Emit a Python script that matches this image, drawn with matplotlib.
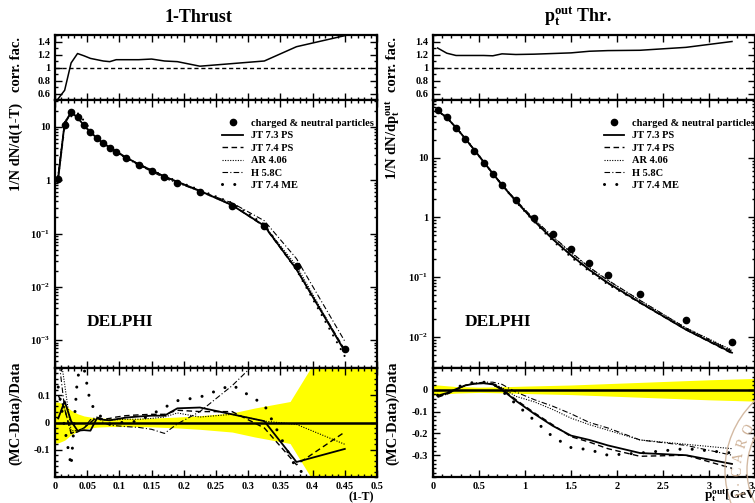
import matplotlib
matplotlib.use('Agg')
import matplotlib.pyplot as plt
import numpy as np
from matplotlib.lines import Line2D
from matplotlib.patches import Circle
from matplotlib.ticker import MultipleLocator, FuncFormatter, LogLocator, NullFormatter, FixedLocator

plt.rcParams['font.family'] = 'Liberation Serif'
plt.rcParams['font.weight'] = 'bold'
plt.rcParams['mathtext.fontset'] = 'custom'
plt.rcParams['mathtext.rm'] = 'Liberation Serif:bold'
plt.rcParams['mathtext.it'] = 'Liberation Serif:bold'
plt.rcParams['mathtext.bf'] = 'Liberation Serif:bold'

# ---------------- 1-Thrust ----------------
thr_x = [0.005, 0.015, 0.025, 0.035, 0.045, 0.055, 0.065, 0.075, 0.085, 0.095,
         0.11, 0.13, 0.15, 0.17, 0.19, 0.225, 0.275, 0.325, 0.375, 0.45]
thr_data = [1.06, 11.0, 18.8, 15.6, 10.9, 8.2, 6.1, 4.9, 4.1, 3.4,
            2.65, 1.94, 1.5, 1.14, 0.89, 0.6, 0.33, 0.139, 0.025, 6.8e-4]
thr_corr = [0.52, 0.65, 1.07, 1.215, 1.18, 1.14, 1.12, 1.10, 1.09, 1.12,
            1.12, 1.12, 1.13, 1.10, 1.09, 1.02, 1.06, 1.10, 1.32, 1.49]
thr_jt73 = [0.015, 0.078, 0.005, -0.03, -0.028, -0.03, 0.015, 0.01, 0.008, 0.012,
            0.018, 0.022, 0.025, 0.025, 0.052, 0.055, 0.03, 0.005, -0.145, -0.097]
thr_jt74 = [0.10, 0.05, -0.04, -0.035, -0.02, 0.0, 0.02, 0.012, 0.015, 0.02,
            0.025, 0.028, 0.03, 0.03, 0.045, 0.04, 0.04, -0.02, -0.155, -0.035]
thr_ar = [0.30, 0.14, -0.03, -0.03, -0.02, 0.0, 0.015, 0.01, 0.01, 0.01,
          0.012, 0.012, 0.015, 0.02, 0.035, 0.02, 0.03, 0.005, -0.007, -0.08]
thr_h = [0.25, 0.05, -0.04, -0.03, -0.02, 0.01, 0.02, 0.0, -0.01, -0.012,
         -0.015, -0.018, -0.025, -0.04, -0.005, 0.04, 0.135, 0.25, 0.35, 0.40]
thr_me = [0.13, -0.02, -0.16, 0.17, 0.20, 0.07, 0.04, 0.01, -0.005, 0.0,
          0.0, 0.005, 0.03, 0.055, 0.08, 0.093, 0.138, 0.065, -0.17, -0.27]
thr_band_x = [0.0, 0.005, 0.015, 0.025, 0.035, 0.045, 0.055, 0.065, 0.085, 0.11,
              0.15, 0.19, 0.225, 0.275, 0.31, 0.365, 0.41, 0.5]
thr_band = [0.075, 0.075, 0.065, 0.045, 0.032, 0.024, 0.02, 0.017, 0.015, 0.015,
            0.016, 0.02, 0.025, 0.035, 0.053, 0.077, 0.25, 0.3]

# ---------------- pt out ----------------
pt_x = [0.05, 0.15, 0.25, 0.35, 0.45, 0.55, 0.65, 0.75, 0.9, 1.1,
        1.3, 1.5, 1.7, 1.9, 2.25, 2.75, 3.25]
pt_data = [63, 48, 32, 20.6, 13.1, 8.3, 5.3, 3.5, 1.98, 0.98,
           0.52, 0.295, 0.172, 0.108, 0.053, 0.0188, 0.0082]
pt_corr = [1.30, 1.22, 1.185, 1.185, 1.185, 1.185, 1.18, 1.21, 1.20, 1.205,
           1.215, 1.225, 1.25, 1.26, 1.265, 1.31, 1.40]
pt_jt73 = [-0.027, -0.015, 0.003, 0.02, 0.028, 0.03, 0.025, 0.0, -0.05, -0.11,
           -0.165, -0.21, -0.23, -0.255, -0.29, -0.30, -0.34]
pt_jt74 = [-0.03, -0.02, 0.0, 0.02, 0.028, 0.03, 0.028, 0.005, -0.045, -0.105,
           -0.16, -0.215, -0.24, -0.27, -0.305, -0.30, -0.36]
pt_ar = [-0.03, -0.02, 0.0, 0.02, 0.03, 0.03, 0.028, 0.01, -0.03, -0.055,
         -0.09, -0.13, -0.16, -0.185, -0.23, -0.25, -0.27]
pt_h = [-0.035, -0.02, 0.0, 0.02, 0.03, 0.035, 0.035, 0.025, -0.01, -0.045,
        -0.075, -0.11, -0.15, -0.175, -0.23, -0.255, -0.30]
pt_me = [-0.025, -0.015, 0.01, 0.025, 0.035, 0.035, 0.03, -0.005, -0.065, -0.14,
         -0.215, -0.265, -0.275, -0.30, -0.29, -0.27, -0.29]
pt_band_x = [0.0, 0.05, 0.25, 0.5, 0.75, 1.0, 1.5, 2.0, 2.5, 3.0, 3.5]
pt_band = [0.025, 0.022, 0.015, 0.012, 0.014, 0.017, 0.022, 0.03, 0.038, 0.046, 0.052]

mc_names = ['JT 7.3 PS', 'JT 7.4 PS', 'AR 4.06', 'H 5.8C', 'JT 7.4 ME']
mc_styles = [dict(ls='-', lw=1.3),
             dict(ls=(0, (4, 2.5)), lw=1.0),
             dict(ls=(0, (1, 1.3)), lw=0.8),
             dict(ls=(0, (5, 2, 1, 2)), lw=0.8),
             dict(ls=(0, (0.01, 4)), lw=2.2, dash_capstyle='round')]

FW = 755
FH = 503


def fig_box(x0, y0, x1, y1):
    return [x0 / FW, 1 - y1 / FH, (x1 - x0) / FW, (y1 - y0) / FH]


def gfmt(v, pos):
    return '%g' % round(v, 4)


def logfmt(v, pos):
    e = int(round(np.log10(v)))
    if e == 0:
        return '1'
    if e == 1:
        return '10'
    return r'$10^{%d}$' % e


def style_axis(ax):
    ax.tick_params(which='both', direction='in', top=True, right=True, labelsize=7.5, width=1)
    ax.tick_params(which='major', length=5)
    ax.tick_params(which='minor', length=2.5)
    for s in ax.spines.values():
        s.set_linewidth(1.6)


fig = plt.figure(figsize=(FW / 100, FH / 100), dpi=100)


def column(x0, x1, x, data, corr, ratios, band_x, band, xmax, xmaj, xmin_, ylog, legx):
    ax_top = fig.add_axes(fig_box(x0, 35, x1, 100))
    ax_mid = fig.add_axes(fig_box(x0, 100, x1, 368))
    ax_bot = fig.add_axes(fig_box(x0, 368, x1, 477))

    ax_top.plot(x, corr, color='black', lw=1.1)
    ax_top.axhline(1, color='black', lw=1, ls=(0, (3, 2)))
    ax_top.set_ylim(0.5, 1.5)
    ax_top.yaxis.set_major_locator(FixedLocator([0.6, 0.8, 1.0, 1.2, 1.4]))
    ax_top.yaxis.set_minor_locator(MultipleLocator(0.1))
    ax_top.yaxis.set_major_formatter(FuncFormatter(gfmt))

    ax_mid.set_yscale('log')
    for r, st in zip(ratios, mc_styles):
        mc = np.array(data) * (1 + np.array(r))
        st_mid = dict(st)
        if st_mid['lw'] > 2:
            st_mid['lw'] = 1.6
            st_mid['ls'] = (0, (0.01, 3.5))
        ax_mid.plot(x, mc, color='black', **st_mid)
    ax_mid.plot(x, data, 'o', color='black', ms=4.5)
    ax_mid.set_ylim(*ylog)
    ax_mid.yaxis.set_major_locator(LogLocator(base=10, numticks=10))
    ax_mid.yaxis.set_minor_locator(LogLocator(base=10, subs=np.arange(2, 10), numticks=10))
    ax_mid.yaxis.set_major_formatter(FuncFormatter(logfmt))
    ax_mid.yaxis.set_minor_formatter(NullFormatter())
    ax_mid.text(0.10, 0.17, 'DELPHI', transform=ax_mid.transAxes, fontsize=12.5,
                fontweight='bold', va='center')

    handles = [Line2D([], [], marker='o', ls='none', color='black', ms=4.5)]
    handles += [Line2D([], [], color='black', **st) for st in mc_styles]
    ax_mid.legend(handles, ['charged & neutral particles'] + mc_names, loc='upper left',
                  bbox_to_anchor=(legx, 0.93), frameon=False, fontsize=7.5, borderpad=0,
                  borderaxespad=0, labelspacing=0.3, handlelength=2.0, handletextpad=0.7)

    ax_bot.fill_between(band_x, -np.array(band), np.array(band), color='#ffff00', lw=0)
    ax_bot.axhline(0, color='black', lw=1.8)
    for r, st in zip(ratios, mc_styles):
        ax_bot.plot(x, r, color='black', **st)

    for ax in (ax_top, ax_mid, ax_bot):
        ax.set_xlim(0, xmax)
        ax.xaxis.set_major_locator(MultipleLocator(xmaj))
        ax.xaxis.set_minor_locator(MultipleLocator(xmin_))
        style_axis(ax)
    ax_top.tick_params(labelbottom=False)
    ax_mid.tick_params(labelbottom=False)
    ax_bot.xaxis.set_major_formatter(FuncFormatter(gfmt))
    ax_bot.yaxis.set_major_locator(MultipleLocator(0.1))
    ax_bot.yaxis.set_minor_locator(MultipleLocator(0.02))
    ax_bot.yaxis.set_major_formatter(FuncFormatter(gfmt))
    return ax_top, ax_mid, ax_bot


lt, lm, lb = column(55, 377, thr_x, thr_data, thr_corr,
                    [thr_jt73, thr_jt74, thr_ar, thr_h, thr_me],
                    thr_band_x, thr_band, 0.5, 0.05, 0.01, (3e-4, 32), 0.52)
lb.set_ylim(-0.2, 0.2)
lb.set_yticks([-0.1, 0, 0.1])

rt, rm, rb = column(433, 755, pt_x, pt_data, pt_corr,
                    [pt_jt73, pt_jt74, pt_ar, pt_h, pt_me],
                    pt_band_x, pt_band, 3.5, 0.5, 0.1, (3e-3, 93), 0.53)
rb.set_ylim(-0.4, 0.1)
rb.set_yticks([-0.3, -0.2, -0.1, 0])

# titles and labels
fig.text(198 / FW, 1 - 17 / FH, '1-Thrust', ha='center', va='center', fontsize=13, fontweight='bold')
fig.text(578 / FW, 1 - 17 / FH, r'$\mathbf{p_t^{out}}$ Thr.', ha='center', va='center',
         fontsize=13, fontweight='bold')

ylabels = [('corr. fac.', 65), ('1/N dN/d(1-T)', 147), ('(MC-Data)/Data', 413)]
for txt, yc in ylabels:
    fig.text(16 / FW, 1 - yc / FH, txt, rotation=90, ha='center', va='center',
             fontsize=10.5, fontweight='bold')
ylabels_r = [('corr. fac.', 65), (r'1/N dN/d$\mathbf{p_t^{out}}$', 140), ('(MC-Data)/Data', 413)]
for txt, yc in ylabels_r:
    fig.text(393 / FW, 1 - yc / FH, txt, rotation=90, ha='center', va='center',
             fontsize=10.5, fontweight='bold')

fig.text(374 / FW, 1 - 497 / FH, '(1-T)', ha='right', va='center', fontsize=8.5, fontweight='bold')
fig.text(704 / FW, 1 - 496 / FH, r'$\mathbf{p_t^{out}}$[GeV]', ha='left', va='center',
         fontsize=9.5, fontweight='bold')

# faint library stamp in the bottom-right corner
stamp = '#c9a98c'
for rad in (0.95, 0.73):
    fig.add_artist(Circle((8.20, 0.33), rad, transform=fig.dpi_scale_trans, fill=False,
                          ec=stamp, lw=1.0, alpha=0.8))
for ch, ang in zip('I·CARO', [196, 189, 181, 171, 161, 151]):
    th = np.radians(ang)
    fig.text(8.20 + 0.82 * np.cos(th), 0.33 + 0.82 * np.sin(th), ch,
             transform=fig.dpi_scale_trans, rotation=ang - 90, ha='center', va='center',
             fontsize=10, color=stamp, alpha=0.9, fontweight='normal')

fig.savefig('out.png', dpi=100)
